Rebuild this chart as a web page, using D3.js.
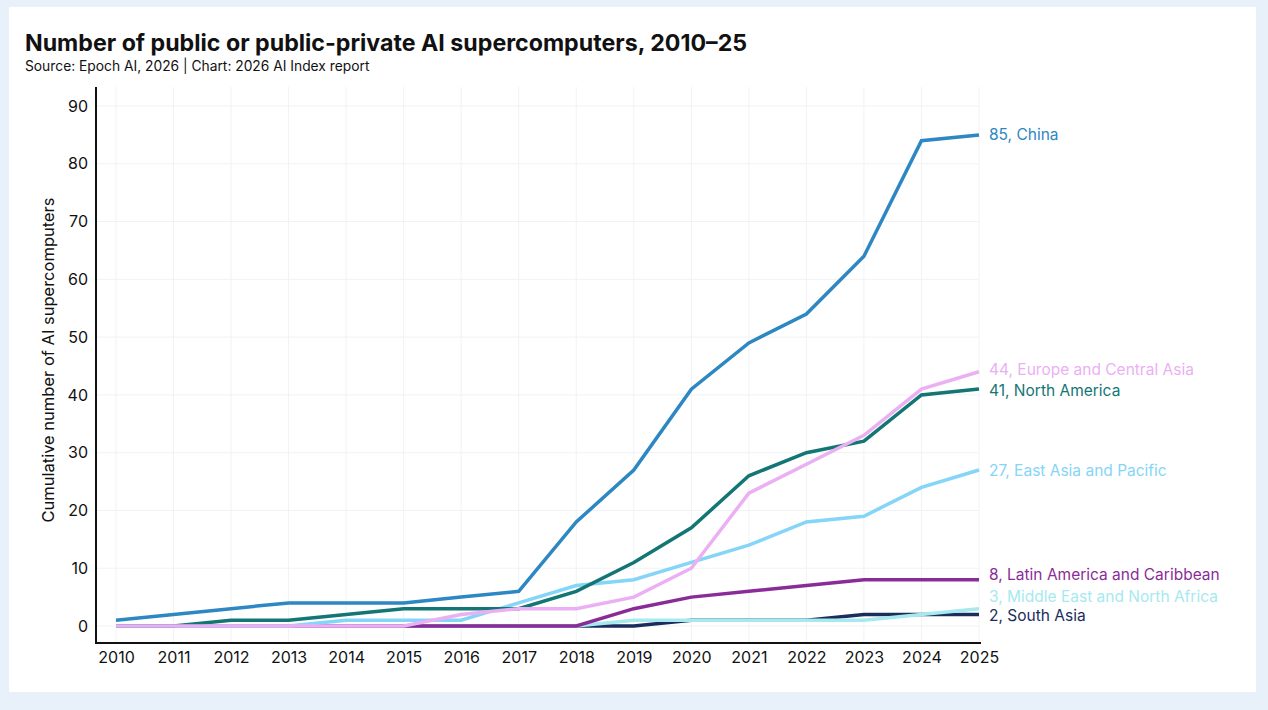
<!DOCTYPE html>
<html><head><meta charset="utf-8">
<script src="https://cdn.jsdelivr.net/npm/d3@7"></script>
<style>
html,body{margin:0;padding:0;background:#e8f1fa;}
svg{display:block;font-family:Inter,"Noto Sans",sans-serif;}
</style></head>
<body>
<script>
const years = [2010,2011,2012,2013,2014,2015,2016,2017,2018,2019,2020,2021,2022,2023,2024,2025];
const yTicks = [0,10,20,30,40,50,60,70,80,90];
const southAsia     = [0,0,0,0,0,0,0,0,0,0,1,1,1,2,2,2];
const middleEast    = [0,0,0,0,0,0,0,0,0,1,1,1,1,1,2,3];
const latinAmerica  = [0,0,0,0,0,0,0,0,0,3,5,6,7,8,8,8];
const eastAsia      = [0,0,0,0,1,1,1,4,7,8,11,14,18,19,24,27];
const northAmerica  = [0,0,1,1,2,3,3,3,6,11,17,26,30,32,40,41];
const europe        = [0,0,0,0,0,0,2,3,3,5,10,23,28,33,41,44];
const china         = [1,2,3,4,4,4,5,6,18,27,41,49,54,64,84,85];
const seriesNames = ["South Asia","Middle East and North Africa","Latin America and Caribbean","East Asia and Pacific","North America","Europe and Central Asia","China"];
const seriesValues = [southAsia,middleEast,latinAmerica,eastAsia,northAmerica,europe,china];
const seriesColors = ["#1b2d5c","#a6e9ef","#8a2c98","#84d5f7","#137674","#ebb0f3","#2d87c3"];
const labelNudge = [1,-12,-5,0,1.5,-2,0];

(function(){
const W=1268,H=710;
const svg=d3.select("body").append("svg").attr("width",W).attr("height",H);
svg.append("rect").attr("x",9).attr("y",7).attr("width",1247).attr("height",685).attr("fill","#ffffff");

svg.append("text").attr("x",25).attr("y",51).attr("font-size",23.2).attr("font-weight",700).attr("fill","#111")
  .text("Number of public or public-private AI supercomputers, 2010–25");
svg.append("text").attr("x",25).attr("y",71).attr("font-size",13.8).attr("fill","#111")
  .text("Source: Epoch AI, 2026 | Chart: 2026 AI Index report");

const x=d3.scaleLinear().domain([2010,2025]).range([116,979]);
const y=d3.scaleLinear().domain([0,90]).range([626,106]);
const pLeft=96, pBottom=643, pTop=87;

svg.append("g").selectAll("line").data(years).join("line")
  .attr("x1",d=>x(d)).attr("x2",d=>x(d)).attr("y1",pTop).attr("y2",pBottom)
  .attr("stroke","#f1f2f4").attr("stroke-width",1);
svg.append("g").selectAll("line").data(yTicks).join("line")
  .attr("x1",pLeft).attr("x2",x(2025)).attr("y1",d=>y(d)).attr("y2",d=>y(d))
  .attr("stroke","#f1f2f4").attr("stroke-width",1);

const yAxis=svg.append("g").attr("transform",`translate(${pLeft},0)`)
  .call(d3.axisLeft(y).tickValues(yTicks).tickSize(0).tickPadding(8));
yAxis.select(".domain").remove();
yAxis.selectAll("text").attr("font-size",16).attr("fill","#111").attr("font-family","Inter,sans-serif");
const xAxis=svg.append("g").attr("transform",`translate(0,${pBottom})`)
  .call(d3.axisBottom(x).tickValues(years).tickFormat(d3.format("d")).tickSize(0).tickPadding(9));
xAxis.select(".domain").remove();
xAxis.selectAll("text").attr("font-size",16).attr("fill","#111").attr("font-family","Inter,sans-serif");

svg.append("line").attr("x1",pLeft).attr("x2",pLeft).attr("y1",pTop).attr("y2",pBottom+1).attr("stroke","#111").attr("stroke-width",2);
svg.append("line").attr("x1",pLeft).attr("x2",x(2025)+2).attr("y1",pBottom).attr("y2",pBottom).attr("stroke","#111").attr("stroke-width",2);

svg.append("text").attr("transform",`translate(54,${(pTop+pBottom)/2-5}) rotate(-90)`)
  .attr("text-anchor","middle").attr("font-size",16.5).attr("fill","#111")
  .text("Cumulative number of AI supercomputers");

const line=d3.line().x((d,i)=>x(years[i])).y(d=>y(d));
const g=svg.append("g");
seriesValues.forEach((vals,k)=>{
  g.append("path").datum(vals).attr("d",line).attr("fill","none")
    .attr("stroke",seriesColors[k]).attr("stroke-width",3.5).attr("stroke-linejoin","miter");
  const last=vals[vals.length-1];
  svg.append("text").attr("x",x(2025)+10).attr("y",y(last)+labelNudge[k])
    .attr("dominant-baseline","central").attr("font-size",15.5).attr("fill",seriesColors[k])
    .text(last+", "+seriesNames[k]);
});
})();
</script>
</body></html>
